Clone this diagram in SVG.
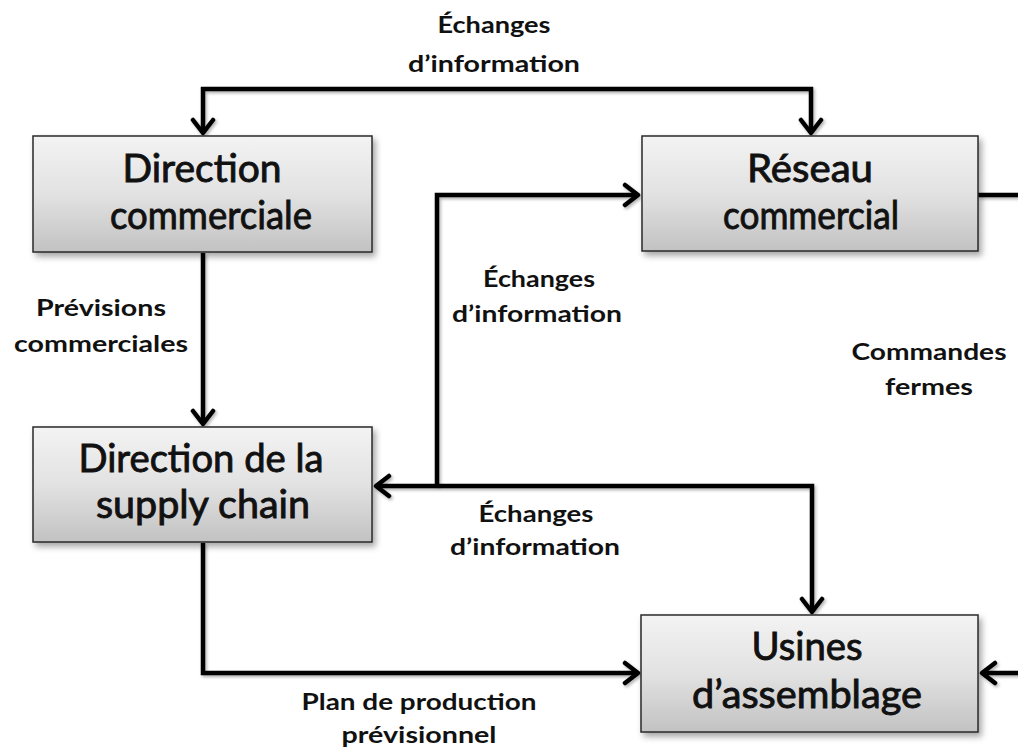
<svg xmlns="http://www.w3.org/2000/svg" width="1018" height="753" viewBox="0 0 1018 753">
  <style>
    .box { fill: url(#g); stroke: #2a2a2a; stroke-width: 1.5; filter: url(#sh); }
    .bt { font-family: Lato, "Open Sans", "Liberation Sans", sans-serif; font-size: 39px; fill: #111; stroke: #111; stroke-width: 0.9; text-anchor: middle; }
    .lb { font-family: Lato, "Open Sans", "Liberation Sans", sans-serif; font-size: 22px; font-weight: bold; fill: #111; text-anchor: middle; }
    .ln { fill: none; stroke: #000; stroke-width: 4.5; stroke-linejoin: miter; filter: url(#ls); }
  </style>
  <defs>
    <linearGradient id="g" x1="0" y1="0" x2="0" y2="1">
      <stop offset="0" stop-color="#f3f3f3"/>
      <stop offset="0.5" stop-color="#e2e2e2"/>
      <stop offset="1" stop-color="#c2c2c2"/>
    </linearGradient>
    <filter id="sh" x="-10%" y="-10%" width="125%" height="130%">
      <feDropShadow dx="3" dy="4" stdDeviation="3" flood-color="#000" flood-opacity="0.35"/>
    </filter>
    <filter id="ls" filterUnits="userSpaceOnUse" x="0" y="0" width="1018" height="753">
      <feDropShadow dx="1.5" dy="2" stdDeviation="1.5" flood-color="#000" flood-opacity="0.3"/>
    </filter>
    <marker id="ah" markerUnits="userSpaceOnUse" viewBox="-18 -13 22 26" refX="0" refY="0" markerWidth="22" markerHeight="26" orient="auto-start-reverse">
      <path d="M-13,-10 L0,0 L-13,10" fill="none" stroke="#000" stroke-width="4.5" stroke-linecap="round" stroke-linejoin="round"/>
    </marker>
  </defs>

  <g id="connectors">
    <path class="ln" d="M203,133 L203,89 L811,89 L811,133" marker-start="url(#ah)" marker-end="url(#ah)"/>
    <path class="ln" d="M203,253 L203,424" marker-end="url(#ah)"/>
    <path class="ln" d="M376,486 L812,486 L812,612" marker-start="url(#ah)" marker-end="url(#ah)"/>
    <path class="ln" d="M437,486 L437,195 L638,195" marker-end="url(#ah)"/>
    <path class="ln" d="M203,543 L203,673 L638,673" marker-end="url(#ah)"/>
    <path class="ln" d="M978,195 L1020,195"/>
    <path class="ln" d="M1020,673 L982,673" marker-end="url(#ah)"/>
  </g>

  <g id="label-top">
    <text class="lb" x="494" y="33" textLength="113" lengthAdjust="spacingAndGlyphs">Échanges</text>
    <text class="lb" x="494" y="72" textLength="172" lengthAdjust="spacingAndGlyphs">d’information</text>
  </g>
  <g id="label-previsions">
    <text class="lb" x="101" y="316" textLength="130" lengthAdjust="spacingAndGlyphs">Prévisions</text>
    <text class="lb" x="101" y="352" textLength="174" lengthAdjust="spacingAndGlyphs">commerciales</text>
  </g>
  <g id="label-mid">
    <text class="lb" x="539" y="287" textLength="112" lengthAdjust="spacingAndGlyphs">Échanges</text>
    <text class="lb" x="537" y="322" textLength="170" lengthAdjust="spacingAndGlyphs">d’information</text>
  </g>
  <g id="label-commandes">
    <text class="lb" x="929" y="360" textLength="155" lengthAdjust="spacingAndGlyphs">Commandes</text>
    <text class="lb" x="929" y="395" textLength="88" lengthAdjust="spacingAndGlyphs">fermes</text>
  </g>
  <g id="label-bottom">
    <text class="lb" x="536" y="522" textLength="115" lengthAdjust="spacingAndGlyphs">Échanges</text>
    <text class="lb" x="535" y="555" textLength="170" lengthAdjust="spacingAndGlyphs">d’information</text>
  </g>
  <g id="label-plan">
    <text class="lb" x="419" y="710" textLength="235" lengthAdjust="spacingAndGlyphs">Plan de production</text>
    <text class="lb" x="419" y="743" textLength="155" lengthAdjust="spacingAndGlyphs">prévisionnel</text>
  </g>

  <g id="node-direction-commerciale">
    <rect class="box" x="33" y="136" width="339" height="116"/>
    <text class="bt" x="202" y="182" textLength="159" lengthAdjust="spacingAndGlyphs">Direction</text>
    <text class="bt" x="211" y="229" textLength="202" lengthAdjust="spacingAndGlyphs">commerciale</text>
  </g>
  <g id="node-reseau-commercial">
    <rect class="box" x="642" y="136" width="336" height="115"/>
    <text class="bt" x="810" y="182" textLength="126" lengthAdjust="spacingAndGlyphs">Réseau</text>
    <text class="bt" x="811" y="229" textLength="176" lengthAdjust="spacingAndGlyphs">commercial</text>
  </g>
  <g id="node-direction-supply-chain">
    <rect class="box" x="33" y="427" width="339" height="115"/>
    <text class="bt" x="201" y="472" textLength="245" lengthAdjust="spacingAndGlyphs">Direction de la</text>
    <text class="bt" x="203" y="518" textLength="214" lengthAdjust="spacingAndGlyphs">supply chain</text>
  </g>
  <g id="node-usines">
    <rect class="box" x="641" y="615" width="337" height="117"/>
    <text class="bt" x="807" y="660" textLength="111" lengthAdjust="spacingAndGlyphs">Usines</text>
    <text class="bt" x="807" y="708" textLength="230" lengthAdjust="spacingAndGlyphs">d’assemblage</text>
  </g>
</svg>
